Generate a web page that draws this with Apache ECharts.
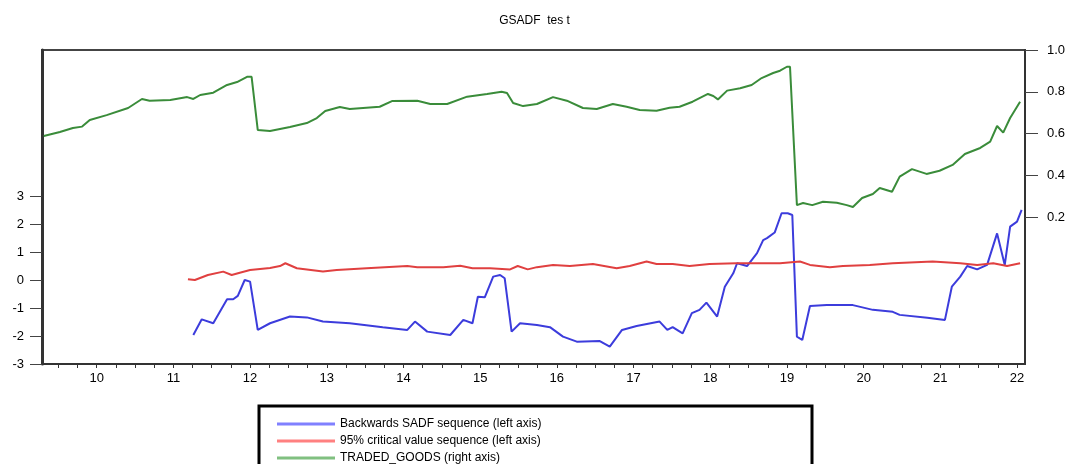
<!DOCTYPE html>
<html>
<head>
<meta charset="utf-8">
<script src="https://cdn.jsdelivr.net/npm/echarts@6/dist/echarts.min.js"></script>
<style>
  html, body { margin: 0; padding: 0; background: #fff; }
  #main { width: 1069px; height: 464px; }
</style>
</head>
<body>
<div id="main"></div>
<script>
// time in years since 2000 (decimal)
var sadfT = [11.26, 11.37, 11.52, 11.70, 11.78, 11.84, 11.93, 12.00, 12.10, 12.26, 12.52, 12.74, 12.95, 13.30, 13.73, 14.05, 14.15, 14.31, 14.61, 14.78, 14.90, 14.97, 15.06, 15.17, 15.26, 15.32, 15.41, 15.52, 15.74, 15.91, 16.08, 16.26, 16.56, 16.69, 16.85, 17.04, 17.34, 17.44, 17.51, 17.64, 17.76, 17.86, 17.95, 18.09, 18.19, 18.30, 18.35, 18.48, 18.61, 18.69, 18.74, 18.84, 18.93, 19.01, 19.07, 19.13, 19.20, 19.30, 19.52, 19.86, 20.12, 20.38, 20.47, 20.83, 21.06, 21.15, 21.26, 21.35, 21.48, 21.61, 21.74, 21.84, 21.91, 22.00, 22.06];
var sadfV = [-1.96, -1.40, -1.54, -0.68, -0.68, -0.56, 0.01, -0.05, -1.78, -1.54, -1.30, -1.33, -1.48, -1.54, -1.68, -1.78, -1.48, -1.84, -1.96, -1.42, -1.54, -0.59, -0.61, 0.13, 0.19, 0.07, -1.84, -1.54, -1.60, -1.68, -2.02, -2.20, -2.18, -2.38, -1.78, -1.64, -1.48, -1.78, -1.68, -1.90, -1.18, -1.06, -0.80, -1.30, -0.23, 0.25, 0.61, 0.51, 0.97, 1.44, 1.51, 1.71, 2.40, 2.40, 2.34, -2.02, -2.14, -0.92, -0.89, -0.89, -1.06, -1.13, -1.24, -1.34, -1.42, -0.23, 0.13, 0.51, 0.39, 0.55, 1.68, 0.55, 1.92, 2.10, 2.52];

var critT = [11.19, 11.28, 11.45, 11.65, 11.76, 11.89, 12.00, 12.26, 12.39, 12.46, 12.61, 12.95, 13.13, 13.52, 14.05, 14.18, 14.52, 14.74, 14.90, 15.13, 15.39, 15.49, 15.62, 15.74, 15.95, 16.17, 16.47, 16.78, 16.95, 17.17, 17.30, 17.51, 17.73, 17.99, 18.34, 18.65, 18.91, 19.17, 19.30, 19.56, 19.73, 20.08, 20.38, 20.90, 21.26, 21.48, 21.69, 21.87, 22.04];
var critV = [0.04, 0.01, 0.19, 0.31, 0.19, 0.29, 0.37, 0.44, 0.51, 0.61, 0.43, 0.31, 0.37, 0.43, 0.51, 0.47, 0.47, 0.52, 0.43, 0.43, 0.39, 0.51, 0.39, 0.47, 0.55, 0.51, 0.58, 0.43, 0.51, 0.67, 0.58, 0.58, 0.51, 0.58, 0.61, 0.61, 0.61, 0.67, 0.55, 0.47, 0.51, 0.55, 0.61, 0.67, 0.61, 0.55, 0.61, 0.51, 0.61];

var goodsT = [9.31, 9.52, 9.69, 9.81, 9.91, 10.13, 10.41, 10.59, 10.69, 10.96, 11.18, 11.26, 11.35, 11.52, 11.70, 11.83, 11.96, 12.02, 12.10, 12.26, 12.52, 12.74, 12.87, 12.98, 13.17, 13.30, 13.69, 13.85, 14.18, 14.35, 14.57, 14.83, 15.09, 15.28, 15.35, 15.43, 15.56, 15.74, 15.95, 16.13, 16.34, 16.52, 16.73, 16.91, 17.08, 17.30, 17.47, 17.60, 17.77, 17.97, 18.04, 18.10, 18.22, 18.39, 18.54, 18.67, 18.82, 18.91, 19.00, 19.04, 19.13, 19.21, 19.33, 19.47, 19.65, 19.78, 19.86, 19.98, 20.12, 20.21, 20.37, 20.47, 20.63, 20.82, 20.99, 21.16, 21.32, 21.52, 21.65, 21.74, 21.82, 21.91, 22.04];
var goodsV = [0.589, 0.608, 0.627, 0.634, 0.666, 0.689, 0.723, 0.766, 0.758, 0.761, 0.775, 0.766, 0.785, 0.796, 0.833, 0.847, 0.872, 0.872, 0.618, 0.613, 0.632, 0.651, 0.675, 0.709, 0.728, 0.718, 0.729, 0.756, 0.758, 0.742, 0.742, 0.777, 0.790, 0.801, 0.795, 0.747, 0.732, 0.742, 0.775, 0.758, 0.723, 0.718, 0.742, 0.729, 0.713, 0.710, 0.724, 0.729, 0.753, 0.790, 0.780, 0.764, 0.806, 0.817, 0.833, 0.866, 0.890, 0.901, 0.920, 0.920, 0.259, 0.269, 0.259, 0.275, 0.270, 0.259, 0.250, 0.293, 0.312, 0.341, 0.323, 0.395, 0.431, 0.408, 0.423, 0.451, 0.503, 0.532, 0.562, 0.637, 0.605, 0.675, 0.753];

var yearLabels = [10, 11, 12, 13, 14, 15, 16, 17, 18, 19, 20, 21, 22];
var leftTicks = [-3, -2, -1, 0, 1, 2, 3];
var rightTicks = [0.2, 0.4, 0.6, 0.8, 1.0];

var seriesNames = ['Backwards SADF sequence (left axis)', '95% critical value sequence (left axis)', 'TRADED_GOODS (right axis)'];

function pairs(xs, ys) {
  var out = [];
  for (var i = 0; i < xs.length; i++) out.push([xs[i], ys[i]]);
  return out;
}

var quarterTicks = [];
for (var q = 37; q <= 88; q++) quarterTicks.push(q / 4);

var myChart = echarts.init(document.getElementById('main'));
var font = 'Liberation Sans, Arial, sans-serif';

var option = {
  animation: false,
  backgroundColor: '#fff',
  title: {
    text: 'GSADF  tes t',
    left: 'center',
    top: 10,
    textStyle: { fontSize: 12, fontWeight: 'normal', color: '#000', fontFamily: font }
  },
  grid: {
    left: 42, right: 44, top: 50, bottom: 100,
    show: true, borderColor: '#444', borderWidth: 2, backgroundColor: 'transparent'
  },
  legend: {
    orient: 'vertical',
    left: 272, top: 412, height: 200,
    icon: 'rect',
    itemWidth: 58, itemHeight: 3, itemGap: 3,
    textStyle: { fontSize: 12, color: '#000', fontFamily: font, lineHeight: 14 },
    data: [
      { name: seriesNames[0], itemStyle: { color: '#8080ff' } },
      { name: seriesNames[1], itemStyle: { color: '#ff8080' } },
      { name: seriesNames[2], itemStyle: { color: '#80c080' } }
    ]
  },
  graphic: [{
    type: 'rect',
    shape: { x: 259, y: 406, width: 553, height: 70 },
    style: { fill: 'none', stroke: '#000', lineWidth: 3 },
    silent: true
  }],
  xAxis: {
    type: 'value',
    min: 9.287, max: 22.104,
    splitLine: { show: false },
    axisLine: { show: true, onZero: false, lineStyle: { color: '#333', width: 2 } },
    axisTick: { show: true, length: 4, customValues: quarterTicks, lineStyle: { color: '#333' } },
    axisLabel: { customValues: yearLabels, margin: 8, fontSize: 13, color: '#000', fontFamily: font }
  },
  yAxis: [{
    type: 'value',
    position: 'left',
    min: -3, max: 8.25,
    splitLine: { show: false },
    axisLine: { show: true, onZero: false, lineStyle: { color: '#333', width: 3 } },
    axisTick: { show: true, length: 12, customValues: leftTicks, lineStyle: { color: '#444' } },
    axisLabel: { customValues: leftTicks, margin: 18, fontSize: 13, color: '#000', fontFamily: font }
  }, {
    type: 'value',
    position: 'right',
    min: -0.5, max: 1.0,
    splitLine: { show: false },
    axisLine: { show: true, onZero: false, lineStyle: { color: '#333', width: 2 } },
    axisTick: { show: true, length: 13, customValues: rightTicks, lineStyle: { color: '#444' } },
    axisLabel: {
      customValues: rightTicks, margin: 22, fontSize: 13, color: '#000', fontFamily: font,
      formatter: function (v) { return v.toFixed(1); }
    }
  }],
  series: [{
    name: seriesNames[0],
    type: 'line',
    yAxisIndex: 0,
    showSymbol: false,
    lineStyle: { color: '#3c3cdc', width: 2 },
    itemStyle: { color: '#3c3cdc' },
    data: pairs(sadfT, sadfV)
  }, {
    name: seriesNames[1],
    type: 'line',
    yAxisIndex: 0,
    showSymbol: false,
    lineStyle: { color: '#e04040', width: 2 },
    itemStyle: { color: '#e04040' },
    data: pairs(critT, critV)
  }, {
    name: seriesNames[2],
    type: 'line',
    yAxisIndex: 1,
    showSymbol: false,
    lineStyle: { color: '#3a8c3a', width: 2 },
    itemStyle: { color: '#3a8c3a' },
    data: pairs(goodsT, goodsV)
  }]
};

myChart.setOption(option);
</script>
</body>
</html>
